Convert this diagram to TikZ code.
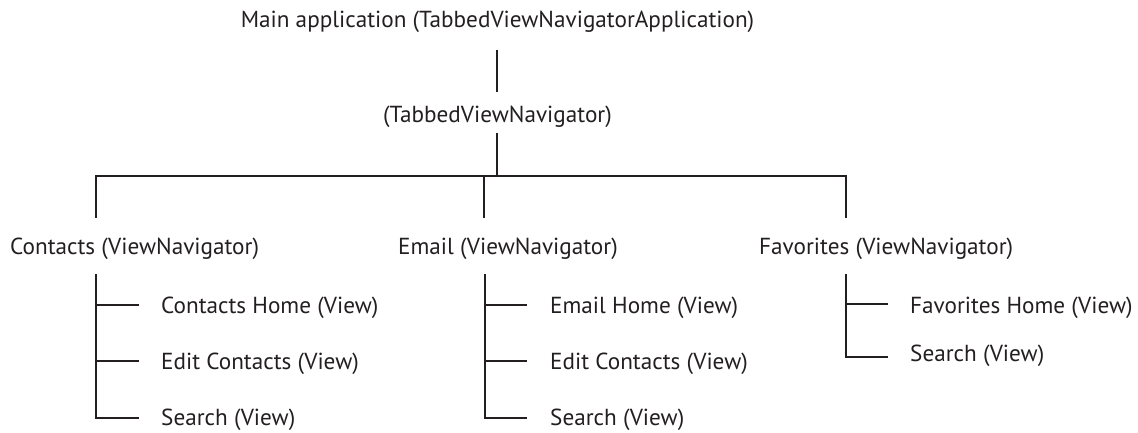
\documentclass[tikz,border=0pt]{standalone}
\usepackage{fontspec}
\setmainfont{PT Sans}
\definecolor{ink}{RGB}{35,31,32}
\tikzset{
  lbl/.style={inner sep=0pt, text=ink, font=\fontsize{23.2}{26}\selectfont},
  lblw/.style={lbl, anchor=base west},
  lblc/.style={lbl, anchor=base},
  wire/.style={draw=ink, line width=2pt, line cap=butt, line join=miter}
}
\begin{document}
\begin{tikzpicture}[x=1pt,y=-1pt]
\useasboundingbox (0,0) rectangle (1138,432);

% application and tabbed navigator
\node[lblc] (app) at (497.5,27) {Main application (TabbedViewNavigatorApplication)};
\node[lblc] (tabs) at (497.5,122.5) {(TabbedViewNavigator)};

% view navigators
\node[lblw] (contacts) at (10,254) {Contacts (ViewNavigator)};
\node[lblw] (email) at (398,254) {Email (ViewNavigator)};
\node[lblw] (favs) at (759,254) {Favorites (ViewNavigator)};

% views
\node[lblw] (c1) at (161,313) {Contacts Home (View)};
\node[lblw] (c2) at (161,369) {Edit Contacts (View)};
\node[lblw] (c3) at (161,425) {Search (View)};
\node[lblw] (e1) at (550,313) {Email Home (View)};
\node[lblw] (e2) at (550,369) {Edit Contacts (View)};
\node[lblw] (e3) at (550,425) {Search (View)};
\node[lblw] (f1) at (910,313) {Favorites Home (View)};
\node[lblw] (f2) at (910,361) {Search (View)};

% junction points
\coordinate (appdown) at (497,50);
\coordinate (tabsup) at (497,92);
\coordinate (tabsdown) at (497,133);
\coordinate (bus) at (497,176);
\coordinate (busL) at (96,176);
\coordinate (busM) at (484,176);
\coordinate (busR) at (846,176);
\coordinate (cTop) at (96,218);
\coordinate (eTop) at (484,218);
\coordinate (fTop) at (846,218);
\coordinate (cSub) at (96,274);
\coordinate (eSub) at (485,274);
\coordinate (fSub) at (846,274);

% application to tabbed navigator
\draw[wire] (appdown) -- (tabsup);
% tabbed navigator to the three view navigators
\draw[wire] (tabsdown) -- (bus);
\draw[wire] (cTop) -- (busL) -- (busR) -- (fTop);
\draw[wire] (busM) -- (eTop);

% contacts views
\draw[wire] (cSub) -- (96,418) -- (139,418);
\draw[wire] (96,305) -- (139,305);
\draw[wire] (96,361) -- (139,361);

% email views
\draw[wire] (eSub) -- (485,418) -- (527,418);
\draw[wire] (485,305) -- (527,305);
\draw[wire] (485,361) -- (527,361);

% favorites views
\draw[wire] (fSub) -- (846,357) -- (888,357);
\draw[wire] (846,304) -- (888,304);
\end{tikzpicture}
\end{document}
